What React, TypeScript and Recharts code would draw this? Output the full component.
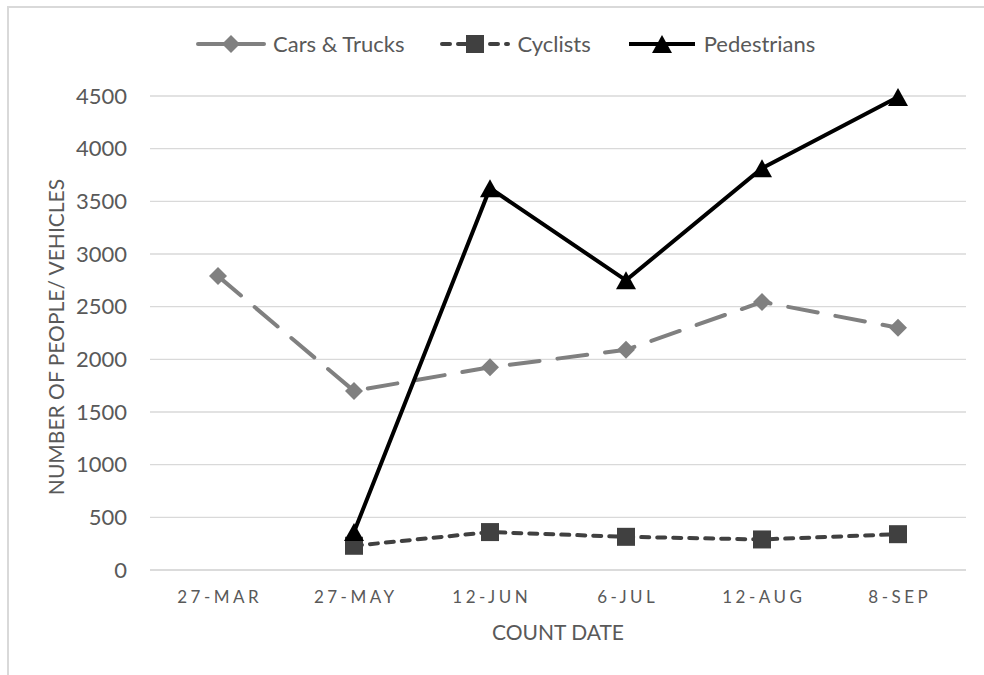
import { CartesianGrid, Legend, Line, LineChart, XAxis, YAxis } from "recharts";

const countDates = ["27-MAR", "27-MAY", "12-JUN", "6-JUL", "12-AUG", "8-SEP"];
const carsTrucks = [2790, 1700, 1925, 2090, 2545, 2300];
const cyclists = [null, 230, 360, 315, 290, 340];
const pedestrians = [null, 360, 3625, 2750, 3815, 4490];
const yTicks = [0, 500, 1000, 1500, 2000, 2500, 3000, 3500, 4000, 4500];

const data = countDates.map((date, i) => ({
  date,
  cars: carsTrucks[i],
  cyclists: cyclists[i],
  pedestrians: pedestrians[i],
}));

const FONT = "Lato, 'Open Sans', sans-serif";
const TEXT = "#595959";
const GRID = "#d9d9d9";

const CARS = "#808080";
const CYCLISTS = "#404040";
const PEDESTRIANS = "#000000";

function marker(kind: string, cx: number, cy: number, color: string, key?: string) {
  if (kind === "diamond") {
    const r = 9;
    return (
      <path
        key={key}
        d={`M${cx},${cy - r}L${cx + r},${cy}L${cx},${cy + r}L${cx - r},${cy}Z`}
        fill={color}
      />
    );
  }
  if (kind === "square") {
    const h = 9;
    return <rect key={key} x={cx - h} y={cy - h} width={h * 2} height={h * 2} fill={color} />;
  }
  const w = 10;
  const h = 9;
  return (
    <path
      key={key}
      d={`M${cx},${cy - h}L${cx + w},${cy + h}L${cx - w},${cy + h}Z`}
      fill={color}
    />
  );
}

const dotFor = (kind: string, color: string) => (props: any) => {
  const { cx, cy, index } = props;
  const key = `${kind}-${index}`;
  if (cx == null || cy == null || Number.isNaN(cy)) return <g key={key} />;
  return marker(kind, cx, cy, color, key);
};

const legendItems = [
  { label: "Cars & Trucks", color: CARS, dash: "30 10", kind: "diamond" },
  { label: "Cyclists", color: CYCLISTS, dash: "8 8", kind: "square" },
  { label: "Pedestrians", color: PEDESTRIANS, dash: undefined, kind: "triangle" },
];

function LegendContent() {
  return (
    <div style={{ display: "flex", alignItems: "center", whiteSpace: "nowrap", gap: 36 }}>
      {legendItems.map((it) => (
        <div key={it.label} style={{ display: "flex", alignItems: "center", gap: 7 }}>
          <svg width={70} height={24}>
            <line
              x1={2}
              y1={12}
              x2={68}
              y2={12}
              stroke={it.color}
              strokeWidth={4}
              strokeDasharray={it.dash}
              strokeLinecap={it.dash ? "round" : "butt"}
            />
            {marker(it.kind, 35, 12, it.color)}
          </svg>
          <span style={{ fontFamily: FONT, fontSize: 22, color: TEXT, lineHeight: "24px" }}>
            {it.label}
          </span>
        </div>
      ))}
    </div>
  );
}

function DateTick(props: any) {
  const { x, y, payload } = props;
  return (
    <text
      x={x + 1.75}
      y={y}
      textAnchor="middle"
      fill={TEXT}
      fontFamily={FONT}
      fontSize={17}
      letterSpacing={3.5}
    >
      {payload.value}
    </text>
  );
}

export default function App() {
  return (
    <div style={{ position: "relative", width: 984, height: 675, overflow: "hidden", background: "#fff" }}>
      <style>{`body{margin:0}`}</style>
      <div
        style={{
          position: "absolute",
          left: 7,
          top: 6,
          width: 977,
          height: 669,
          boxSizing: "border-box",
          borderTop: `2px solid ${GRID}`,
          borderLeft: `2px solid ${GRID}`,
        }}
      />
      <LineChart
        width={984}
        height={675}
        data={data}
        margin={{ top: 96, right: 18, bottom: 45, left: 80 }}
      >
        <CartesianGrid vertical={false} stroke={GRID} strokeWidth={1.4} />
        <XAxis
          dataKey="date"
          height={60}
          padding={{ left: 68, right: 68 }}
          interval={0}
          tickLine={false}
          tickSize={6}
          tickMargin={27}
          axisLine={{ stroke: GRID, strokeWidth: 1.4 }}
          tick={<DateTick />}
          label={{
            content: (p: any) => {
              const vb = p.viewBox || { x: 150, y: 570, width: 816 };
              return (
                <text
                  x={vb.x + vb.width / 2}
                  y={vb.y + 70}
                  textAnchor="middle"
                  fill={TEXT}
                  fontFamily={FONT}
                  fontSize={21}
                >
                  COUNT DATE
                </text>
              );
            },
          }}
        />
        <YAxis
          domain={[0, 4500]}
          ticks={yTicks}
          interval={0}
          width={70}
          axisLine={false}
          tickLine={false}
          tickSize={6}
          tickMargin={17}
          tick={{ fill: TEXT, fontSize: 22, fontFamily: FONT }}
          label={{
            content: (p: any) => {
              const vb = p.viewBox || { x: 80, y: 96, height: 474 };
              const cx = vb.x - 25;
              const cy = vb.y + vb.height / 2 + 4;
              return (
                <text
                  x={cx}
                  y={cy}
                  transform={`rotate(-90 ${cx} ${cy})`}
                  textAnchor="middle"
                  dominantBaseline="central"
                  fill={TEXT}
                  fontFamily={FONT}
                  fontSize={21}
                >
                  NUMBER OF PEOPLE/ VEHICLES
                </text>
              );
            },
          }}
        />
        <Legend
          verticalAlign="middle"
          align="center"
          layout="horizontal"
          content={<LegendContent />}
          wrapperStyle={{ top: 32, left: 196, width: "auto", height: 24 }}
        />
        <Line
          dataKey="cars"
          name="Cars & Trucks"
          stroke={CARS}
          strokeWidth={4}
          strokeDasharray="30 18"
          strokeLinecap="round"
          dot={dotFor("diamond", CARS)}
          activeDot={false}
          isAnimationActive={false}
        />
        <Line
          dataKey="cyclists"
          name="Cyclists"
          stroke={CYCLISTS}
          strokeWidth={4}
          strokeDasharray="8 8"
          strokeLinecap="round"
          dot={dotFor("square", CYCLISTS)}
          activeDot={false}
          isAnimationActive={false}
        />
        <Line
          dataKey="pedestrians"
          name="Pedestrians"
          stroke={PEDESTRIANS}
          strokeWidth={4}
          dot={dotFor("triangle", PEDESTRIANS)}
          activeDot={false}
          isAnimationActive={false}
        />
      </LineChart>
    </div>
  );
}
